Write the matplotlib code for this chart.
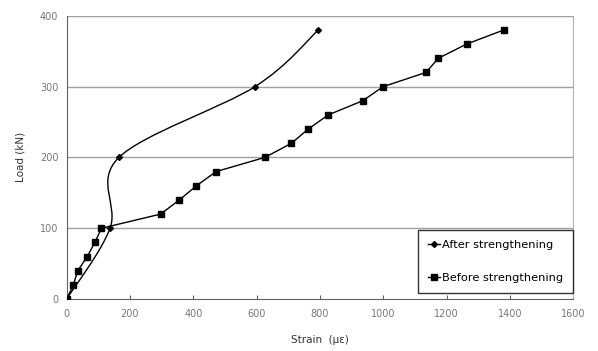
import numpy as np
import matplotlib.pyplot as plt
from matplotlib.path import Path
from matplotlib.patches import PathPatch
from matplotlib.lines import Line2D

# data
after_strain = [0, 137, 165, 595, 795]
after_load = [0, 100, 200, 300, 380]

before_strain = [0, 21, 35, 65, 89, 110, 297, 356, 410, 472, 626, 710,
                 763, 826, 935, 1000, 1135, 1174, 1263, 1381]
before_load = [0, 20, 40, 60, 80, 100, 120, 140, 160, 180, 200, 220,
               240, 260, 280, 300, 320, 340, 360, 380]

x_ticks = [0, 200, 400, 600, 800, 1000, 1200, 1400, 1600]
y_ticks = [0, 100, 200, 300, 400]

plt.rcParams['font.family'] = ['DejaVu Sans']

fig = plt.figure(figsize=(5.98, 3.51), dpi=100)
ax = fig.add_axes([0.1115, 0.148, 0.847, 0.807])

# horizontal gridlines
for y in y_ticks[1:]:
    ax.axhline(y, color='#a0a0a0', lw=1.0, zorder=1)

# smoothed line (Excel style), Bezier through the points
pts = np.column_stack([after_strain, after_load]).astype(float)
n = len(pts)
verts = [pts[0]]
codes = [Path.MOVETO]
for i in range(n - 1):
    p_prev = pts[i - 1] if i > 0 else pts[i]
    p_next2 = pts[i + 2] if i + 2 < n else pts[i + 1]
    c1 = pts[i] + (pts[i + 1] - p_prev) / 6.0
    c2 = pts[i + 1] - (p_next2 - pts[i]) / 6.0
    verts += [c1, c2, pts[i + 1]]
    codes += [Path.CURVE4] * 3
ax.add_patch(PathPatch(Path(verts, codes), fill=False, ec='black', lw=1.0, zorder=3))
ax.plot(after_strain, after_load, ls='none', marker='D', ms=3, color='black', zorder=4)

ax.plot(before_strain, before_load, '-', marker='s', ms=5, color='black', lw=1.0, zorder=3)

ax.set_xlim(0, 1600)
ax.set_ylim(0, 400)
ax.set_xticks(x_ticks)
ax.set_yticks(y_ticks)

ax.spines['top'].set_visible(False)
ax.spines['right'].set_color('#b0b0b0')
ax.spines['left'].set_color('#606060')
ax.spines['bottom'].set_color('#606060')
ax.tick_params(axis='x', direction='in', length=3, color='#606060', labelsize=7,
               labelcolor='#777777', pad=7)
ax.tick_params(axis='y', direction='out', length=0, labelsize=7,
               labelcolor='#777777', pad=6)

ax.set_xlabel('Strain  (\u03bc\u03b5)', fontsize=7.5, color='#333333', labelpad=12)
ax.set_ylabel('Load (kN)', fontsize=7.5, color='#333333', labelpad=10)

handles = [
    Line2D([], [], color='black', lw=1.0, marker='D', ms=3),
    Line2D([], [], color='black', lw=1.0, marker='s', ms=5),
]
leg = ax.legend(handles, ['After strengthening', 'Before strengthening'],
                loc='lower right', bbox_to_anchor=(1.0, 0.02), fontsize=8.2,
                frameon=True, fancybox=False, edgecolor='black',
                handlelength=1.0, handletextpad=0.2, labelspacing=2.0,
                borderpad=0.9, borderaxespad=0.0)
leg.get_frame().set_linewidth(1.0)

fig.savefig('out.png', dpi=100)
